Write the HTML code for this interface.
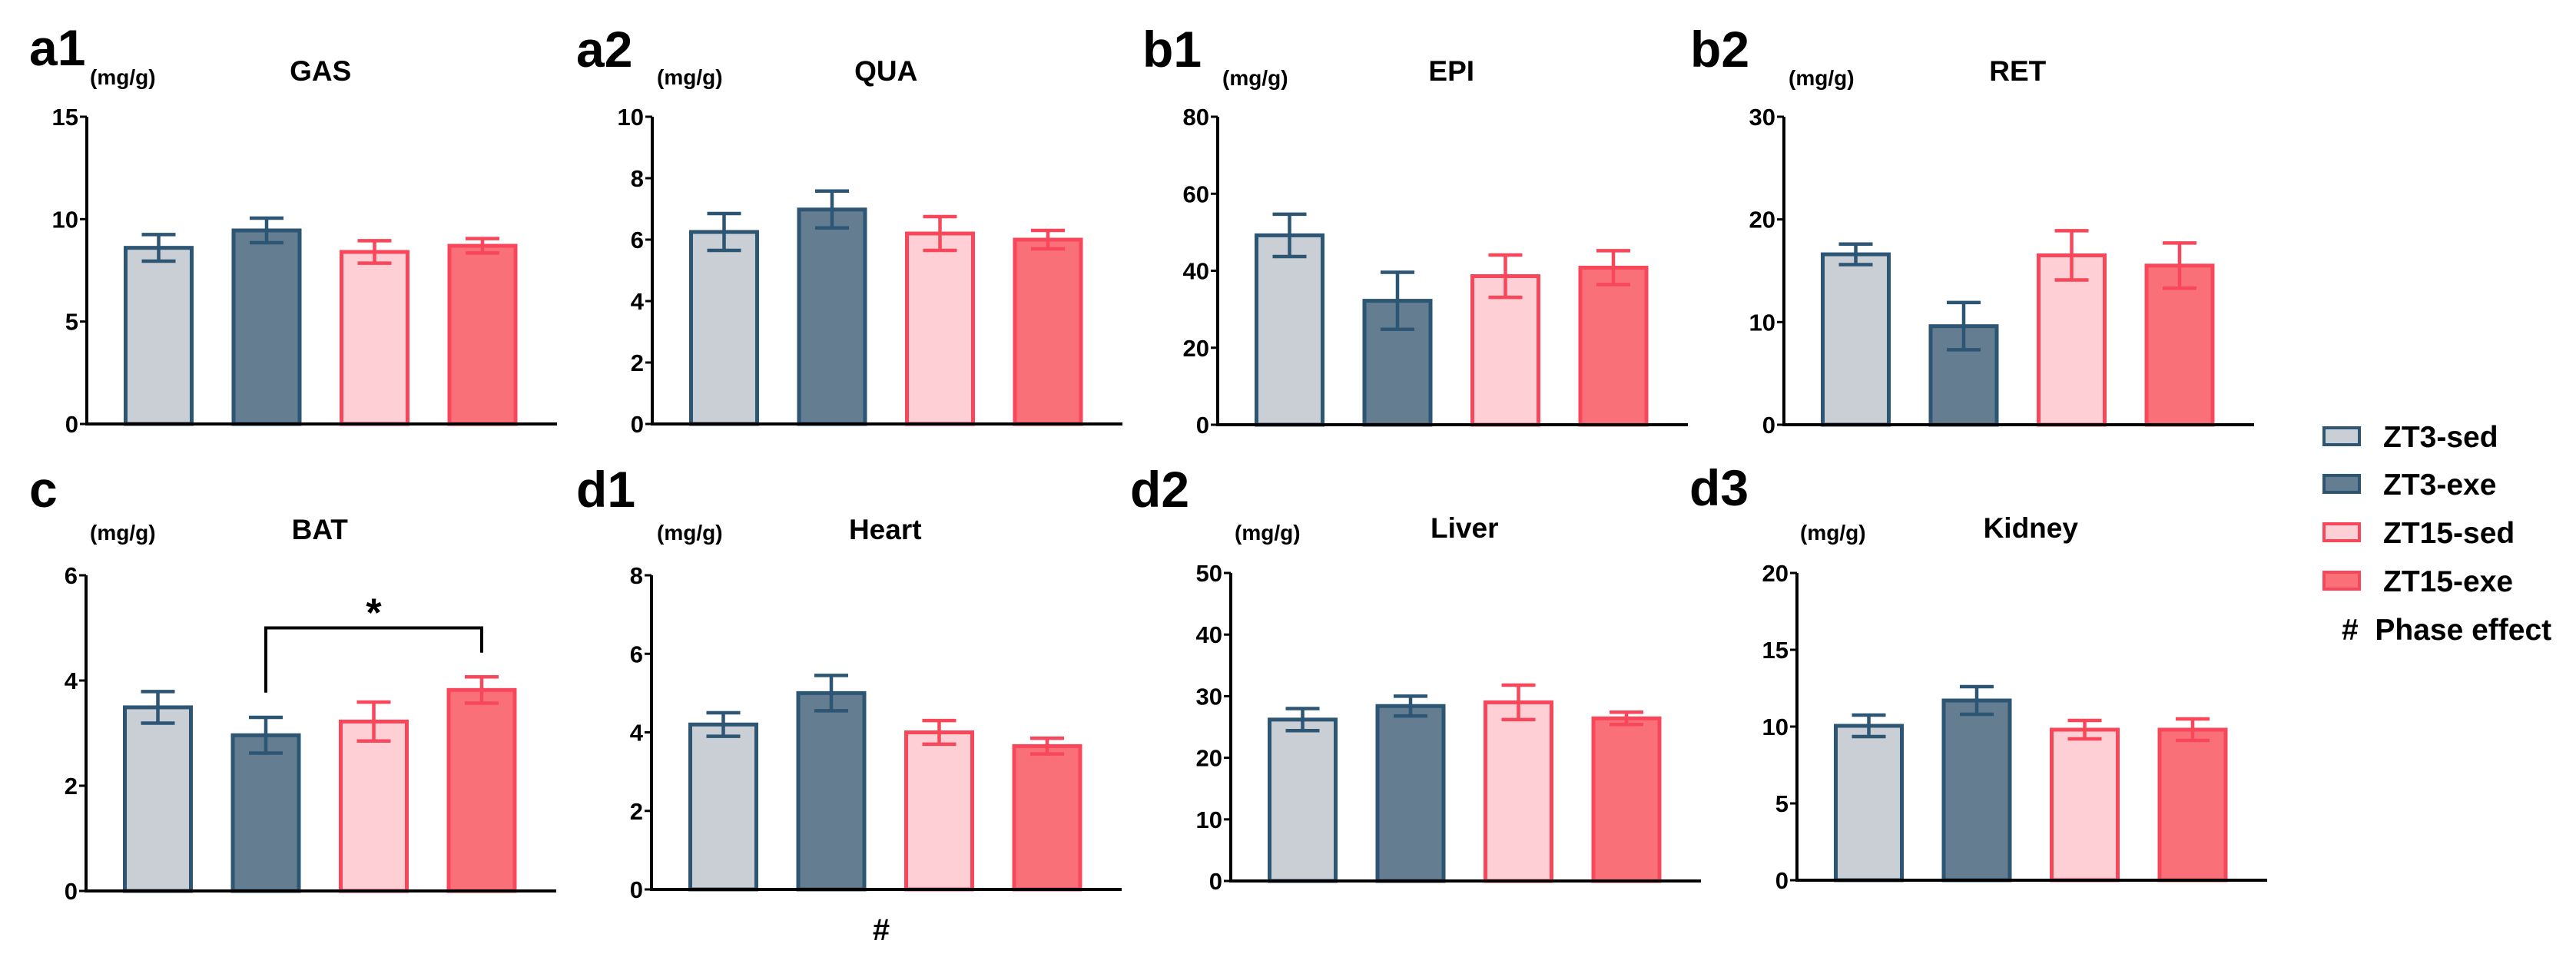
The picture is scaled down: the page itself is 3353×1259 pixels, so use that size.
<!DOCTYPE html>
<html><head><meta charset="utf-8"><style>
html,body{margin:0;padding:0;background:#fff;}
svg{display:block;font-family:"Liberation Sans",Arial,sans-serif;}
</style></head><body>
<svg id="fig" width="3353" height="1259" viewBox="0 0 3353 1259" xmlns="http://www.w3.org/2000/svg"></svg>
<script>
const groups = ["ZT3-sed","ZT3-exe","ZT15-sed","ZT15-exe"];
const panelLabels = ["a1","a2","b1","b2","c","d1","d2","d3"];
const panelTitles = ["GAS","QUA","EPI","RET","BAT","Heart","Liver","Kidney"];
const yMaxes = [15,10,80,30,6,8,50,20];
const yTickStep = [5,2,20,10,2,2,10,5];
const gasMeans = [8.6,9.45,8.4,8.7];      const gasErr = [0.65,0.6,0.55,0.35];
const quaMeans = [6.25,6.98,6.2,6.0];     const quaErr = [0.6,0.6,0.55,0.3];
const epiMeans = [49.2,32.2,38.6,40.8];   const epiErr = [5.5,7.4,5.5,4.4];
const retMeans = [16.6,9.6,16.5,15.5];    const retErr = [1.0,2.3,2.4,2.2];
const batMeans = [3.49,2.96,3.22,3.82];   const batErr = [0.3,0.34,0.37,0.25];
const heartMeans = [4.2,5.0,4.0,3.65];    const heartErr = [0.3,0.45,0.3,0.2];
const liverMeans = [26.2,28.4,29.0,26.4]; const liverErr = [1.8,1.6,2.8,1.0];
const kidneyMeans = [10.05,11.7,9.8,9.8]; const kidneyErr = [0.7,0.9,0.6,0.7];
const allMeans = [gasMeans,quaMeans,epiMeans,retMeans,batMeans,heartMeans,liverMeans,kidneyMeans];
const allErrs = [gasErr,quaErr,epiErr,retErr,batErr,heartErr,liverErr,kidneyErr];
const batBracket = [5.0,3.77,4.53]; // bracket top value, left end, right end

// layout (not data)
const layout = [
 {ax:113,zero:552,top:152,lx:38,ly:85,ux:117,uy:110,ty:105},
 {ax:849,zero:552,top:152,lx:750,ly:87,ux:855,uy:110,ty:105},
 {ax:1585,zero:553,top:152,lx:1487,ly:87,ux:1591,uy:111,ty:105},
 {ax:2322,zero:553,top:152,lx:2200,ly:87,ux:2328,uy:111,ty:105},
 {ax:112,zero:1160,top:749,lx:38,ly:660,ux:117,uy:703,ty:702},
 {ax:848,zero:1158,top:749,lx:750,ly:660,ux:855,uy:703,ty:702},
 {ax:1602,zero:1147,top:746,lx:1471,ly:660,ux:1607,uy:703,ty:700},
 {ax:2339,zero:1146,top:746,lx:2199,ly:658,ux:2343,uy:703,ty:700}
];
const fills = ["#cacfd5","#647d90","#fecfd5","#f97079"];
const strokes = ["#2d5574","#2d5574","#f8475a","#f8475a"];
const NS = "http://www.w3.org/2000/svg";
const svg = document.getElementById('fig');
function mk(tag, attrs, parent){const e=document.createElementNS(NS,tag);for(const k in attrs)e.setAttribute(k,attrs[k]);(parent||svg).appendChild(e);return e;}

panelTitles.forEach((title,p)=>{
  const L = layout[p];
  const g = mk('g',{});
  
  
  const y = v => L.zero - v/yMaxes[p]*(L.zero-L.top);
  const x = i => L.ax + 48 + i*140.5;
  const bw = 91;
  // label
  let t = mk('text',{x:L.lx,y:L.ly,'font-size':66,'font-weight':'bold',fill:'#000'},g);
  t.textContent = panelLabels[p];
  
  
  t = mk('text',{x:L.ux,y:L.uy,'font-size':28,'font-weight':'bold',fill:'#000'},g);
  t.textContent = '(mg/g)';
  
  
  t = mk('text',{x:(x(0)+x(3)+bw)/2,y:L.ty,'font-size':37,'font-weight':'bold','text-anchor':'middle',fill:'#000'},g);
  t.textContent = title;
  
  
  // bars
  allMeans[p].forEach((m,i)=>{
    const r = mk('rect',{x:x(i)+2.5,y:y(m),width:bw-5,height:L.zero-y(m),fill:fills[i],stroke:strokes[i],'stroke-width':5},g);
    
    
    const e = allErrs[p][i], cx = x(i)+bw/2;
    const eb = mk('path',{d:`M${cx},${y(m-e)}V${y(m+e)}M${cx-22},${y(m+e)}H${cx+22}M${cx-22},${y(m-e)}H${cx+22}`,stroke:strokes[i],'stroke-width':4.5,fill:'none'},g);
    
    
  });
  // axes
  const axy = mk('line',{x1:L.ax,y1:L.top,x2:L.ax,y2:L.zero,stroke:'#000','stroke-width':4},g);
  
  
  const axx = mk('line',{x1:L.ax-2,y1:L.zero,x2:L.ax+612,y2:L.zero,stroke:'#000','stroke-width':4},g);
  
  
  for(let v=0; v<=yMaxes[p]+1e-9; v+=yTickStep[p]){
    mk('line',{x1:L.ax-9,y1:y(v),x2:L.ax,y2:y(v),stroke:'#000','stroke-width':3},g);
    const tl = mk('text',{x:L.ax-11,y:y(v)+11,'font-size':31,'font-weight':'bold','text-anchor':'end',fill:'#000'},g);
    tl.textContent = v;
    
    
  }
  if(p===4){
    const c1 = x(1)+bw/2, c3 = x(3)+bw/2;
    const br = mk('path',{d:`M${c1},${y(batBracket[1])}V${y(batBracket[0])}H${c3}V${y(batBracket[2])}`,stroke:'#000','stroke-width':4,fill:'none'},g);
    
    
    const st = mk('text',{x:(c1+c3)/2,y:y(batBracket[0])-2,'font-size':52,'font-weight':'bold','text-anchor':'middle',fill:'#000'},g);
    st.textContent = '*';
    
    
  }
  if(p===5){
    const h = mk('text',{x:1147,y:1224,'font-size':40,'font-weight':'bold','text-anchor':'middle',fill:'#000'},g);
    h.textContent = '#';
    
    
  }
});

// legend
const lg = mk('g',{});


const legY = [568,630,693,756];
groups.forEach((gname,i)=>{
  const r = mk('rect',{x:3025,y:legY[i]-11,width:46,height:22,fill:fills[i],stroke:strokes[i],'stroke-width':4},lg);
  
  
  const t = mk('text',{x:3102,y:legY[i]+14,'font-size':39,'font-weight':'bold',fill:'#000'},lg);
  t.textContent = gname;
  
  
});
const ph = mk('text',{x:3048,y:833,'font-size':39,'font-weight':'bold',fill:'#000'},lg);
ph.textContent = '#  Phase effect';


ph.setAttribute('xml:space','preserve');
ph.style.whiteSpace='pre';
</script>
</body></html>
